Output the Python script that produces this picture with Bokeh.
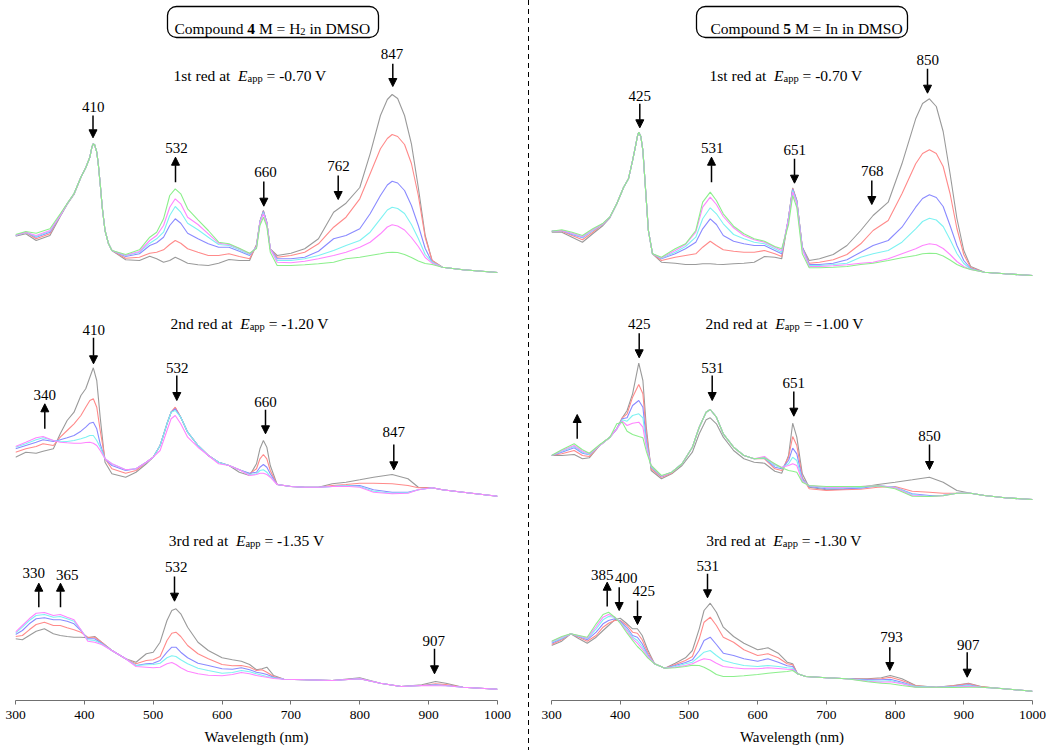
from bokeh.plotting import figure
from bokeh.models import Range1d, Arrow, NormalHead, BoxAnnotation, Div, Label, FixedTicker
from bokeh.layouts import row
from bokeh.embed import file_html
from bokeh.resources import INLINE

# ---------------- DATA (absorbance, arbitrary units) -------------
# Compound 4 (M = H2), 1st reduction
wl_c4_r1 = [300,315,330,350,365,375,385,395,402,408,411,413,415,418,420,423,426,430,435,440,460,480,495,505,515,524,532,540,550,565,580,595,610,625,640,650,655,660,665,670,680,700,720,740,762,780,800,815,830,840,847,855,865,875,885,895,905,920,950,1000]
c4_r1_gray = [39.3,41.7,35.0,40.0,59.0,71.0,81.0, 98.3,107.7,118.3,128.5,131.7,130.5,123.3,113.0,91.7,68.0,45.0,32.0,25.0, 15.7,15.0,19.3,16.7,13.3, 15.0,18.3,15.7,12.3,10.7, 10.0,12.3,16.0,15.0,15.0, 31.0,54.0,65.0,53.0,26.7, 20.0,22.3,26.7,36.7,63.3, 72.3,88.0,121.7,160.0,176.0, 181.0,177.0,160.0,131.7,88.0, 40.0,15.0,8.3,5.7,3.0]
c4_r1_red = [40.0,43.3,36.7,41.7,60.0,71.7,81.7, 98.3,107.7,118.3,128.5,131.7,130.5,123.3,113.0,91.7,68.0,45.0,32.0,25.0, 17.3,18.3,22.3,23.3,25.7, 31.0,35.0,32.3,26.7,23.3, 20.0,20.0,21.7,19.0,16.7, 30.0,54.0,64.3,53.0,26.7, 18.3,20.0,23.3,31.7,48.3, 58.3,76.7,101.7,126.7,137.0, 141.0,139.0,131.0,112.0,80.0, 38.0,15.0,8.3,5.7,3.0]
c4_r1_blue = [40.0,43.3,38.3,43.3,60.0,71.7,81.7, 98.3,107.7,118.3,128.5,131.7,130.5,123.3,113.0,91.7,68.0,45.0,32.0,25.0, 19.0,21.7,30.0,32.7,38.3, 50.0,56.7,52.3,42.3,36.7, 31.7,28.3,28.3,24.3,20.0, 29.0,54.0,64.0,53.0,26.7, 16.7,16.7,18.3,24.3,36.7, 40.0,46.7,61.7,80.0,90.5, 94.3,92.5,85.0,70.0,50.0, 27.0,13.3,8.3,5.7,3.0]
c4_r1_cyan = [40.0,43.3,39.0,44.3,60.0,71.7,81.7, 98.3,107.7,118.3,128.5,131.7,130.5,123.3,113.0,91.7,68.0,45.0,32.0,25.0, 19.7,23.3,32.3,36.7,43.3, 60.0,69.0,63.3,52.3,45.7, 38.3,31.0,30.0,25.7,21.0, 28.5,53.5,63.0,52.5,26.7, 15.0,15.0,16.7,20.0,25.0, 30.0,35.0,43.3,56.7,65.5, 68.3,67.0,62.0,51.0,37.0, 21.0,13.3,8.3,5.7,3.0]
c4_r1_magenta = [40.3,43.3,40.0,45.0,60.0,71.7,81.7, 98.3,107.7,118.3,128.5,131.7,130.5,123.3,113.0,91.7,68.0,45.0,32.0,25.0, 20.3,24.0,35.0,40.0,50.0, 68.3,76.7,71.7,58.3,51.0, 41.7,32.3,31.0,26.7,21.7, 28.0,53.0,61.7,52.0,26.7, 13.3,12.7,14.3,16.7,20.0, 23.3,28.3,33.3,41.7,48.5, 50.7,49.5,45.5,38.0,29.0, 18.0,12.3,8.3,5.7,3.0]
c4_r1_green = [41.0,44.0,42.3,46.7,61.7,72.0,82.0, 98.3,107.7,118.3,128.5,131.7,130.5,123.3,113.0,91.7,68.0,45.0,32.0,25.0, 21.0,25.7,38.3,43.3,56.7, 80.0,86.7,81.7,66.7,55.7, 45.0,33.3,31.7,27.3,22.3, 27.0,50.0,58.3,49.0,23.3, 10.0,10.0,10.7,11.7,13.3, 16.7,18.3,20.0,21.7,23.0, 23.3,23.0,21.0,18.0,14.5, 12.0,11.0,8.3,5.7,3.0]

# Compound 4, 2nd reduction
wl_c4_r2 = [300,315,330,340,355,365,375,385,395,402,408,413,418,423,430,440,460,475,490,500,510,520,526,532,540,550,565,580,595,610,625,640,650,655,660,665,670,680,700,720,740,760,780,800,820,847,870,885,905,920,950,1000]
c4_r2_gray = [43.3,48.3,47.3,49.3,51.7, 66.7,80.0,88.3,105.0,111.7, 123.3,132.7,120.0,83.3,38.3, 26.7,23.3,28.3,36.7,43.3, 55.0,76.7,88.3,92.7,83.3, 68.3,55.0,45.0,38.3,35.0, 28.3,25.0,36.7,51.7,60.0, 53.3,35.0,16.0,14.0,13.3, 13.3,16.7,18.3,20.7,23.3, 26.0,21.7,13.3,12.7,10.7, 8.3,4.3]
c4_r2_red = [48.3,51.7,54.0,56.7,55.0, 63.3,70.0,76.7,85.0,93.3, 100.0,101.7,93.3,70.0,41.7, 31.7,27.3,30.0,38.3,43.3, 55.0,76.7,88.3,93.3,83.3, 68.3,55.0,45.0,38.3,35.0, 30.7,26.7,31.7,41.7,46.0, 41.7,30.0,16.0,14.0,13.3, 13.3,15.0,16.0,17.3,17.3, 16.7,15.0,12.7,12.7,10.7, 8.3,4.3]
c4_r2_blue = [51.7,55.0,58.3,60.7,59.0, 60.7,62.7,65.0,69.3,73.3, 77.3,78.3,71.7,56.7,41.7, 35.0,30.0,31.7,38.3,43.3, 55.0,76.7,88.3,91.7,83.3, 68.3,55.0,45.0,38.3,35.0, 30.7,27.3,28.3,33.3,36.0, 33.3,26.7,16.0,14.0,13.3, 13.3,14.0,15.0,15.0,10.7, 8.3,8.3,10.7,12.7,10.7, 8.3,4.3]
c4_r2_cyan = [53.3,56.7,60.7,62.7,60.0, 59.3,59.0,60.0,61.7,63.3, 65.0,65.0,60.0,53.3,41.7, 36.7,30.7,31.7,38.3,43.3, 55.0,76.7,88.3,90.0,83.3, 68.3,55.0,45.0,38.3,35.0, 30.7,26.0,26.7,30.0,30.7, 28.3,24.0,16.0,14.0,13.3, 13.3,14.0,15.0,14.0,9.3, 7.3,7.7,10.7,12.7,10.7, 8.3,4.3]
c4_r2_magenta = [54.0,58.3,62.7,64.0,60.0, 58.3,57.7,57.3,57.3,58.0, 58.3,57.3,55.0,50.0,41.7, 36.7,30.7,31.7,38.3,43.3, 50.0,70.0,81.7,85.0,76.7, 63.3,53.3,45.0,36.7,35.0, 30.7,25.0,26.0,27.3,27.3, 26.0,23.3,16.0,14.0,13.3, 13.3,14.0,14.3,13.3,8.3, 6.7,7.3,10.7,12.7,10.7, 8.3,4.3]

# Compound 4, 3rd reduction
wl_c4_r3 = [300,310,320,330,342,355,365,375,385,395,405,415,425,440,460,475,490,500,510,520,527,533,540,550,565,580,600,615,628,640,650,658,665,675,690,720,760,800,830,860,890,910,925,950,1000]
c4_r3_gray = [51.7,50.7,55.0,59.3,61.7, 56.7,55.0,54.0,53.3,53.3, 52.7,54.0,48.3,40.0,31.7, 28.3,36.7,38.3,48.3,70.0, 80.0,81.7,76.7,63.3,48.3, 40.0,32.7,30.7,29.3,26.0, 20.7,21.7,23.3,15.0,11.3, 10.7,10.0,12.7,7.3,4.0, 5.7,9.0,7.3,3.3,1.3]
c4_r3_red = [54.0,55.0,60.7,66.0,68.3, 65.0,65.0,62.7,60.7,58.3, 53.3,53.3,48.3,40.0,31.7, 26.7,30.0,30.7,34.0,50.0, 57.3,58.3,54.0,45.0,36.7, 31.7,26.0,24.7,25.0,23.3, 20.0,20.7,18.3,14.0,11.3, 10.7,10.0,11.7,7.3,4.0, 5.0,6.7,6.0,3.3,1.3]
c4_r3_blue = [56.0,60.0,66.7,71.7,72.7, 70.7,70.7,69.3,66.7,60.0, 51.7,51.7,47.3,40.0,31.7, 25.0,26.7,27.3,30.0,38.3, 43.3,43.3,38.3,32.7,27.3, 25.0,21.7,21.3,22.7,20.7, 18.3,17.3,16.0,13.3,11.3, 10.7,10.0,11.7,7.3,4.0, 5.0,5.7,5.0,3.3,1.3]
c4_r3_cyan = [57.3,63.3,70.0,75.0,76.0, 73.3,74.0,71.7,69.3,60.7, 50.7,50.0,46.7,40.0,31.7, 25.0,25.7,26.0,27.3,32.7, 34.7,34.0,30.7,26.7,22.3, 20.0,17.3,18.0,20.0,18.7, 16.7,15.3,14.0,12.7,11.3, 10.7,10.0,11.7,7.3,4.0, 5.0,5.3,4.7,3.3,1.3]
c4_r3_magenta = [58.3,65.0,71.7,77.3,78.0, 75.0,76.0,73.3,70.7,60.7, 49.3,48.3,46.0,40.0,31.7, 24.0,23.3,22.7,23.3,26.7, 28.0,26.0,22.7,19.3,16.7, 15.3,14.7,16.0,18.0,16.7, 15.0,14.0,13.3,12.0,11.3, 10.7,10.0,11.7,7.3,4.0, 5.0,4.7,4.7,3.3,1.3]

# Compound 5 (M = In), 1st reduction
wl_c5_r1 = [300,315,330,345,360,375,385,395,405,412,418,422,425,427,430,433,437,441,447,460,480,495,510,520,531,540,550,565,580,595,610,625,635,645,651,657,665,675,690,710,730,750,768,790,810,830,840,850,860,870,880,890,900,910,930,960,1000]
c5_r1_gray = [46.3,46.3,41.3,36.3,44.7,53.0,60.7, 74.7,91.3,99.7,118.0,131.3,142.0,146.3,142.0,128.0,88.0,48.0,24.7, 16.3,15.3,14.0, 14.0,14.7,14.7,14.3,14.0, 14.7,15.3,16.3,22.0,21.3, 19.7,61.0,90.7,78.0,31.3, 18.0,19.7,24.0, 33.0,48.0,63.0,76.3,114.7,159.7,175.0,179.7,172.0,147.0,105.0,60.0,28.0,12.0, 6.3,4.7,3.0]
c5_r1_red = [47.3,47.3,43.0,38.7,46.3,54.7,61.3, 74.7,91.3,99.7,118.0,131.3,142.0,146.3,142.0,128.0,88.0,48.0,24.7, 18.0,21.3,23.0, 24.7,31.3,37.3,33.0,28.7, 27.3,26.3,26.3,28.0,24.7, 22.0,61.0,90.0,78.0,31.3, 15.3,16.3,18.7, 24.0,34.7,48.0,58.0,84.7,114.7,125.0,128.7,125.0,112.0,85.0,50.0,24.0,11.0, 6.3,4.7,3.0]
c5_r1_blue = [47.3,48.0,44.0,40.7,48.0,54.7,61.3, 74.7,91.3,99.7,118.0,131.3,142.0,146.3,142.0,128.0,88.0,48.0,24.7, 19.7,24.7,29.7, 36.3,49.7,59.7,54.0,43.0, 37.3,34.7,33.0,33.0,28.0, 24.7,61.0,89.3,77.5,31.3, 14.0,14.0,15.3, 18.7,26.3,33.0,38.0,51.3,71.3,80.0,83.7,81.0,72.0,53.0,33.0,18.0,10.0, 6.3,4.7,3.0]
c5_r1_cyan = [47.3,48.0,44.7,41.3,48.0,54.7,61.3, 74.7,91.3,99.7,118.0,131.3,142.0,146.3,142.0,128.0,88.0,48.0,24.7, 20.3,26.3,32.0, 41.3,59.7,70.7,64.7,54.7, 44.0,39.7,36.3,34.7,29.7, 26.3,60.0,88.0,76.5,30.0, 13.0,13.0,14.0, 15.3,21.3,24.7,28.0,36.3,49.7,57.0,60.3,58.5,52.0,39.0,25.0,15.0,9.5, 6.3,4.7,3.0]
c5_r1_magenta = [47.3,48.0,45.3,42.0,48.7,54.7,61.3, 74.7,91.3,99.7,118.0,131.3,142.0,146.3,142.0,128.0,88.0,48.0,24.7, 20.7,28.0,34.0, 46.3,71.3,81.3,74.0,62.0, 50.7,43.0,38.7,36.3,31.3, 28.0,59.0,86.3,75.0,29.0, 12.0,12.0,12.7, 13.7,15.3,16.3,19.7,24.7,29.7,33.0,34.7,33.7,30.0,24.0,17.0,12.0,9.0, 6.3,4.7,3.0]
c5_r1_green = [47.3,48.7,46.3,43.0,49.7,55.3,61.7, 74.7,91.3,99.7,118.0,131.3,142.0,146.3,142.0,128.0,88.0,48.0,24.7, 21.3,29.7,34.7, 48.0,76.3,86.3,78.0,64.7, 52.3,44.7,39.7,37.3,32.0, 29.7,54.0,83.0,71.0,24.7, 10.7,10.7,11.3, 12.0,14.0,15.3,18.0,20.7,23.0,24.7,25.3,25.0,22.5,18.5,14.0,11.0,9.0, 6.3,4.7,3.0]

# Compound 5, 2nd reduction
wl_c5_r2 = [300,315,333,345,355,370,385,395,403,410,418,427,433,438,445,460,475,490,505,515,525,531,540,550,565,580,595,610,625,635,645,651,657,665,675,700,725,750,775,800,825,850,870,890,910,930,960,1000]
c5_r2_gray = [47,47,48,43.7,44.7, 57,65.3,73.7,84.7,92, 108.7,139.3,122,75.3,32, 23.7,28.7,37,50.3,68.7, 82.7,84.7,78.7,65.3,52, 43.7,40.3,39.3,31.3,29.3, 47,79.3,65.3,28.7,15.3, 12.7,13.3,15.3,18,20.3, 22.7,25.3,20.3,12,9.3, 7,4.7,3]
c5_r2_red = [47,48.7,52,47,46, 57,65.3,73.7,84.7,88.7, 105.3,118,108.7,68.7,33.7, 25.3,29.3,38.7,55.3,75.3, 90.3,93,85.3,68.7,55.3, 47,43.7,43.7,33.7,32, 45.3,66,57,25.3,13.7, 12,12.7,13.3,15.3,16, 11.3,10.3,9.3,9.3,9.3, 7,4.7,3]
c5_r2_blue = [47,50.3,54.7,49.3,47.7, 57,65.3,73.7,83.7,84.7, 97,102,95.3,62,35.3, 26,30.3,38.7,55.3,75.3, 90.3,93,85.3,68.7,55.3, 47,43.7,44.3,35.3,33.7, 42,54.3,48.7,23.7,16, 13.7,13.7,14.3,16.7,15.3, 8.7,7,7.3,9.3,9.3, 7,4.7,3]
c5_r2_cyan = [47,51.3,56,50.3,48, 57,65.3,73.7,82.7,81.3, 87,88.7,84.7,58.7,36, 26.3,30.3,38.7,55.3,75.3, 90.3,93,85.3,68.7,55.3, 47,43.7,44.7,37,34.7, 38.7,45.3,42,22,16.7, 14.7,14.7,15.3,17,15.3, 8,6.3,7,9.3,9.3, 7,4.7,3]
c5_r2_magenta = [47,52,57,51.3,48.7, 57,65.3,73.7,81.3,77, 79.3,80.3,75.3,55.3,37, 26.3,30.3,38.7,55.3,75.3, 90.3,93,85.3,68.7,55.3, 47,43.7,46,38,35.3, 37,38.7,37,21.3,17, 15.3,15.3,16,17,14.7, 7,6,6.7,9.3,9.3, 7,4.7,3]
c5_r2_green = [47,52.7,58.7,52.7,49.3, 57.7,65.3,78.7,80.3,71.3, 68,66,64.7,51.3,37, 27,30.3,38.7,55.3,75.3, 90.3,93,85.3,68.7,55.3, 47,43.7,44.7,38.7,34.7, 32,31.3,30.3,20.3,17, 16,16,16,16.7,13.7, 6.3,6,6.7,9.3,9.3, 7,4.7,3]

# Compound 5, 3rd reduction
wl_c5_r3 = [300,315,328,340,352,365,375,383,392,400,410,418,425,432,440,450,465,480,495,505,515,522,531,540,550,565,580,600,615,630,643,651,658,670,700,730,760,780,793,810,830,860,885,907,925,950,1000]
c5_r3_gray = [48,52.3,59.7,54.7,50.3, 56.3,63,68,73.7,75.3, 69.7,64.7,64.7,58,43.7, 29.7,25.3,30.3,35.7,43, 64.7,83,90.3,81.3,66.3, 57,50.3,43.7,45.7,40.3, 31.3,29.7,19.7,17,15.7, 14.7,14.7,15.7,18,14.7, 8,6.3,8,10.3,7, 5.3,2.3]
c5_r3_red = [49,53.7,59.7,56.3,52.3, 58,66.3,70.3,73,73, 68,61.3,60.3,53.7,41.3, 29.7,25.3,29,33,37, 54.7,71.3,76.3,68,56.3, 51.3,43.7,38,39.7,35.7, 29.7,28.7,19.7,17,15.7, 14.7,14.3,14.7,16.3,13, 7.7,6.3,7.7,9.7,6.7, 5.3,2.3]
c5_r3_blue = [50.3,54.7,59.7,57,53.7, 61.3,69.7,73,74.7,72.3, 65.7,58,56.3,49.7,39, 29.7,25.3,28,31,33.7, 43,53,56.3,49,40.3, 38,34.7,32.3,34.7,31.3, 27.7,27,19.7,17,15.7, 14.7,13.7,13.7,14.3,11.3, 7,6.3,7,8.7,6.3, 5.3,2.3]
c5_r3_cyan = [51.3,55.3,59.7,57.3,54.7, 64.7,73.7,77,76.3,71.3, 63.7,56.3,53,47,38, 29.7,25.3,27,29.7,31.3, 37,41.3,43,38,33, 30.3,28,27,28,27, 25.7,25.3,19.7,17,15.7, 14.7,13,12.3,13,10.3, 7,6.3,6.7,8,6.3, 5.3,2.3]
c5_r3_magenta = [52,56.3,59.7,57.7,55.3, 67,76.3,79,76.3,70.7, 62.3,54.7,50.3,44.7,37, 29.7,25.3,26.3,28,29.7, 33,34.7,33.7,30.3,27, 25.7,24.7,24.7,25.7,25, 24.3,24,19.7,17,15.7, 14.7,12.3,11.3,11.7,9.7, 6.3,6.3,6.3,7.3,6.3, 5.3,2.3]
c5_r3_green = [52.3,57,59.7,58,56.3, 69.7,79,81.3,76.3,70.3, 60.3,53,47,42.3,35.7, 29.7,25.3,25.7,27,28.3, 28,26.3,23,19,17, 17,17.7,19,20.3,21.3, 22,23,19.7,17,15.7, 14.7,11.7,10.3,9.7,8, 6.3,6.3,6,6.3,6.3, 5.3,2.3]

ticks = [300, 400, 500, 600, 700, 800, 900, 1000]

# ---------------- STYLE / LAYOUT -------------------------------------------
FONT = "Liberation Serif"
COL = {"gray": "#9a9a9a", "red": "#ff8a8a", "blue": "#8a8aff",
       "cyan": "#7ef2f2", "magenta": "#ff84ff", "green": "#8cef8c"}

# reference-pixel -> data helpers for annotations
def lx(px):
    return 300 + (px - 15) * 700.0 / 482

def rx(px):
    return 300 + (px - 551) * 700.0 / 481

def yy(py):
    return 700 - py

W = {' ': 250, '0': 500, '1': 500, '2': 500, '3': 500, '4': 500, '5': 500, '6': 500,
     '7': 500, '8': 500, '9': 500, '.': 250, '-': 333, '=': 564, 'a': 444, 'C': 667,
     'D': 722, 'd': 500, 'E': 611, 'e': 444, 'H': 722, 'I': 333, 'i': 278, 'M': 889,
     'm': 778, 'n': 500, 'O': 722, 'o': 500, 'p': 500, 'r': 333, 'S': 556, 's': 389,
     't': 278, 'u': 500, 'V': 722}

def tw(s, size):
    return sum(W.get(c, 500) for c in s) * size / 1000.0


def rich(p, xf, x0, base, pieces, size=15.5, subsize=10.5, subdy=2.5):
    x = x0
    for s, kind in pieces:
        fs = subsize if kind == "sub" else size
        dy = subdy if kind == "sub" else 0
        lead = len(s) - len(s.lstrip(" "))
        trail = len(s) - len(s.rstrip(" "))
        core = s.strip(" ")
        x += tw(" " * lead, fs)
        style = {"reg": "normal", "bold": "bold", "ital": "italic", "sub": "normal"}[kind]
        p.add_layout(Label(x=xf(x), y=yy(base + dy), text=core, text_font=FONT,
                           text_font_size=f"{fs}px", text_font_style=style,
                           text_color="black", text_baseline="alphabetic", text_align="left"))
        x += tw(core, fs) + tw(" " * trail, fs)


def make_fig(width, bl, br):
    p = figure(width=width, height=750, x_range=Range1d(300, 1000), y_range=Range1d(0, 700),
               output_backend="svg", toolbar_location=None, y_axis_location=None,
               min_border_left=bl, min_border_right=br, min_border_top=0, min_border_bottom=50)
    p.grid.visible = False
    p.outline_line_color = None
    p.background_fill_color = "white"
    p.border_fill_color = "white"
    ax = p.xaxis[0]
    ax.ticker = FixedTicker(ticks=ticks)
    ax.axis_label = "Wavelength (nm)"
    ax.axis_label_text_font = FONT
    ax.axis_label_text_font_size = "15px"
    ax.axis_label_text_font_style = "normal"
    ax.axis_label_text_color = "black"
    ax.axis_label_standoff = 7
    ax.major_label_text_font = FONT
    ax.major_label_text_font_size = "13.5px"
    ax.major_label_text_color = "black"
    ax.major_label_standoff = 6
    ax.axis_line_color = "#707070"
    ax.major_tick_line_color = "#707070"
    ax.major_tick_out = 4
    ax.major_tick_in = 0
    ax.minor_tick_out = 0
    ax.minor_tick_in = 0
    return p


def draw_panel(p, wl, curves, offset):
    for name, vals in curves:
        assert len(vals) == len(wl), (name, len(vals), len(wl))
        p.line(wl, [offset + v for v in vals], line_color=COL[name], line_width=1.1)


def arrow(p, xf, x, y_from, y_to):
    p.add_layout(Arrow(end=NormalHead(size=8, fill_color="black", line_color="black", line_width=1),
                       x_start=xf(x), y_start=yy(y_from), x_end=xf(x), y_end=yy(y_to),
                       line_color="black", line_width=1.5))


def peak_label(p, xf, x, y, text):
    p.add_layout(Label(x=xf(x), y=yy(y), text=text, text_font=FONT, text_font_size="15px",
                       text_color="black", text_align="center", text_baseline="middle"))


def compound_box(p, xf, left, right, x_text, pieces):
    p.add_layout(BoxAnnotation(left=xf(left), right=xf(right), top=yy(6), bottom=yy(37),
                               fill_color=None, fill_alpha=0, line_color="black", line_alpha=1.0,
                               line_width=1.3, border_radius=9))
    rich(p, xf, x_text, 28, pieces, size=15.5, subsize=10.5, subdy=3)


def title(p, xf, x0, base, ordinal, volts):
    rich(p, xf, x0, base, [(ordinal + " red at  ", "reg"), ("E", "ital"), ("app", "sub"),
                           (" = " + volts + " V", "reg")])

# ---------------- LEFT: compound 4 -----------------------------------------------------
pl = make_fig(528, 15, 31)
draw_panel(pl, wl_c4_r1, [("gray", c4_r1_gray), ("red", c4_r1_red), ("blue", c4_r1_blue),
                          ("cyan", c4_r1_cyan), ("magenta", c4_r1_magenta), ("green", c4_r1_green)], 425)
draw_panel(pl, wl_c4_r2, [("gray", c4_r2_gray), ("red", c4_r2_red), ("blue", c4_r2_blue),
                          ("cyan", c4_r2_cyan), ("magenta", c4_r2_magenta)], 200)
draw_panel(pl, wl_c4_r3, [("gray", c4_r3_gray), ("red", c4_r3_red), ("blue", c4_r3_blue),
                          ("cyan", c4_r3_cyan), ("magenta", c4_r3_magenta)], 10)

compound_box(pl, lx, 167, 378, 174, [("Compound ", "reg"), ("4", "bold"), (" M = H", "reg"),
                                     ("2", "sub"), (" in DMSO", "reg")])
title(pl, lx, 173, 75, "1st", "-0.70")
title(pl, lx, 170, 323.3, "2nd", "-1.20")
title(pl, lx, 168.3, 540, "3rd", "-1.35")

# (label, arrow x, y from, y to, label x, label y)  in reference pixels
ann_left = [
    ("410", 92.5, 115, 137.3, 92.8, 106.7),
    ("532", 175, 181.7, 156.7, 176, 147.7),
    ("660", 263.3, 181, 205.7, 265, 171.7),
    ("762", 337.7, 175, 199, 338, 165.7),
    ("847", 392.3, 63.3, 86, 391.5, 53.3),
    ("410", 93, 337.3, 363.3, 93.3, 329),
    ("340", 44.3, 428.3, 403.3, 44.3, 394),
    ("532", 176.3, 375, 400, 176.7, 367.3),
    ("660", 265, 409.3, 433.3, 265, 401.7),
    ("847", 393.3, 444, 469.3, 393.3, 431.7),
    ("330", 38.3, 606.7, 582.7, 33.3, 572.7),
    ("365", 60, 606.7, 582.7, 66.7, 574),
    ("532", 174, 576, 600.7, 175.7, 566.7),
    ("907", 434, 648.3, 673.3, 433.3, 640),
]
for lab, ax_, y0, y1, tx, ty in ann_left:
    arrow(pl, lx, ax_, y0, y1)
    peak_label(pl, lx, tx, ty, lab)

# ---------------- RIGHT: compound 5 ----------------------------------------------------
pr = make_fig(520, 22, 17)
draw_panel(pr, wl_c5_r1, [("gray", c5_r1_gray), ("red", c5_r1_red), ("blue", c5_r1_blue),
                          ("cyan", c5_r1_cyan), ("magenta", c5_r1_magenta), ("green", c5_r1_green)], 422)
draw_panel(pr, wl_c5_r2, [("gray", c5_r2_gray), ("red", c5_r2_red), ("blue", c5_r2_blue),
                          ("cyan", c5_r2_cyan), ("magenta", c5_r2_magenta), ("green", c5_r2_green)], 198)
draw_panel(pr, wl_c5_r3, [("gray", c5_r3_gray), ("red", c5_r3_red), ("blue", c5_r3_blue),
                          ("cyan", c5_r3_cyan), ("magenta", c5_r3_magenta), ("green", c5_r3_green)], 7)

compound_box(pr, rx, 696, 907, 710, [("Compound ", "reg"), ("5", "bold"), (" M = In in DMSO", "reg")])
title(pr, rx, 709, 75, "1st", "-0.70")
title(pr, rx, 705, 323.3, "2nd", "-1.00")
title(pr, rx, 705.7, 540, "3rd", "-1.30")

ann_right = [
    ("425", 639.3, 103.3, 127.3, 639.3, 95),
    ("531", 711, 181.7, 156.7, 711.7, 147.7),
    ("651", 794, 158.3, 182.7, 794.3, 149),
    ("768", 871.3, 180, 204, 871.7, 170),
    ("850", 927, 68.3, 92.7, 927.3, 59.3),
    ("425", 638.7, 332.7, 357.3, 638.7, 323.3),
    (None, 576.7, 438.3, 414, None, None),
    ("531", 711.7, 375, 400, 712, 367.3),
    ("651", 793.3, 391, 415.7, 793.3, 382.7),
    ("850", 929, 444, 469, 929, 435),
    ("385", 606.7, 606, 581.7, 601.7, 574),
    ("400", 618.7, 586.7, 610, 625.7, 577.3),
    ("425", 637, 600, 624, 643.3, 590.7),
    ("531", 707, 573.3, 597.3, 707.3, 565),
    ("793", 889.3, 646.7, 670, 891, 636.7),
    ("907", 966.7, 651.7, 676.7, 967.7, 644),
]
for lab, ax_, y0, y1, tx, ty in ann_right:
    arrow(pr, rx, ax_, y0, y1)
    if lab:
        peak_label(pr, rx, tx, ty, lab)

# dashed separator
sep = Div(text="", width=1, height=750, margin=0,
          styles={"background-image": "repeating-linear-gradient(to bottom, #000 0px, #000 5px, rgba(0,0,0,0) 5px, rgba(0,0,0,0) 9px)"})

layout = row(pl, sep, pr)
open("out.html", "w").write(file_html(layout, INLINE, "UV-vis spectroelectrochemistry"))
